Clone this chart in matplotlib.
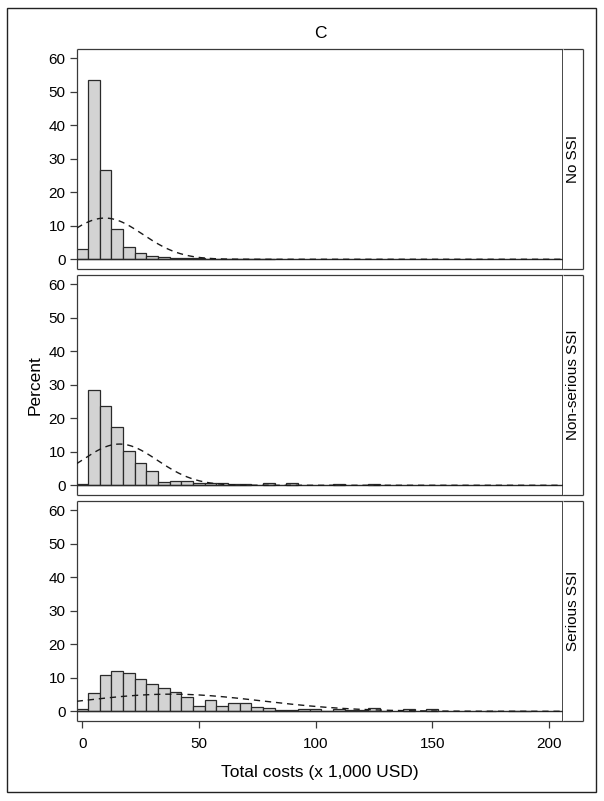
import numpy as np
import matplotlib
matplotlib.use("Agg")
import matplotlib.pyplot as plt
from matplotlib.patches import Rectangle

plt.rcParams['font.family'] = ['Liberation Sans', 'DejaVu Sans']

# ---- data ----
bin_width = 5
panel_labels = ["No SSI", "Non-serious SSI", "Serious SSI"]

centers_no = [0, 5, 10, 15, 20, 25, 30, 35, 40, 45, 50, 55, 60, 65, 70, 75, 80]
pct_no = [3.1, 53.4, 26.7, 9.0, 3.6, 1.9, 1.1, 0.7, 0.4, 0.3, 0.3, 0.2, 0.1, 0.1, 0.1, 0.05, 0.05]

centers_non = [0, 5, 10, 15, 20, 25, 30, 35, 40, 45, 50, 55, 60, 65, 70, 80, 90, 110, 125]
pct_non = [0.4, 28.5, 23.7, 17.5, 10.2, 6.6, 4.4, 1.1, 1.4, 1.4, 0.8, 0.7, 0.7, 0.3, 0.3, 0.7, 0.7, 0.3, 0.3]

centers_ser = [0, 5, 10, 15, 20, 25, 30, 35, 40, 45, 50, 55, 60, 65, 70, 75, 80, 85, 90, 95,
               100, 105, 110, 115, 120, 125, 130, 140, 150, 175, 185, 190]
pct_ser = [0.7, 5.6, 10.7, 12.0, 11.5, 9.6, 8.2, 7.0, 5.8, 4.3, 1.6, 3.5, 1.5, 2.5, 2.5, 1.4, 1.0, 0.5, 0.5, 0.8,
           0.8, 0.2, 0.6, 0.5, 0.5, 1.0, 0.2, 0.8, 0.8, 0.2, 0.2, 0.2]

# fitted normal curve parameters (mean, sd) per panel
normal_mean = [9.7, 16.0, 38.0]
normal_sd = [16.2, 16.2, 39.0]

x_ticks = [0, 50, 100, 150, 200]
y_ticks = [0, 10, 20, 30, 40, 50, 60]

panels = [(centers_no, pct_no), (centers_non, pct_non), (centers_ser, pct_ser)]

# ---- layout ----
W, H = 604, 801
fig = plt.figure(figsize=(W / 100, H / 100), dpi=100)

left_px, right_px, strip_px = 76.7, 563.3, 583.3
tops = [49, 275, 501]
ph = 220
edge_col = '#3a3a3a'

xs = np.linspace(-2.4, 206.2, 600)
axes = []
for i, (cen, pct) in enumerate(panels):
    top = tops[i]
    ax = fig.add_axes([left_px / W, 1 - (top + ph) / H, (right_px - left_px) / W, ph / H])
    axes.append(ax)
    ax.bar(cen, pct, width=bin_width, color='#d3d3d3', edgecolor='#2a2a2a', linewidth=0.9, zorder=2)
    ax.axhline(0, color='#2a2a2a', linewidth=1.0, zorder=3)
    mu, sd = normal_mean[i], normal_sd[i]
    curve = 100 * bin_width * np.exp(-0.5 * ((xs - mu) / sd) ** 2) / (sd * np.sqrt(2 * np.pi))
    ax.plot(xs, curve, color='#1a1a1a', linewidth=1.0, linestyle=(0, (4.5, 3.5)), zorder=4)
    ax.set_xlim(-2.4, 206.2)
    ax.set_ylim(-2.9, 62.8)
    ax.set_yticks(y_ticks)
    ax.set_xticks(x_ticks)
    ax.tick_params(axis='y', direction='out', length=5, width=0.9, color=edge_col, labelsize=11, pad=3)
    ax.tick_params(axis='x', direction='out', length=5, width=0.9, color=edge_col, labelsize=11, pad=6.5)
    if i < 2:
        ax.tick_params(axis='x', bottom=False, labelbottom=False)
    for s in ax.spines.values():
        s.set_color(edge_col)
        s.set_linewidth(0.9)
        s.set_capstyle('butt')
    ax.spines['right'].set_color('#111111')
    ax.spines['right'].set_linewidth(1.8)

    sax = fig.add_axes([right_px / W, 1 - (top + ph) / H, (strip_px - right_px) / W, ph / H])
    sax.set_xticks([])
    sax.set_yticks([])
    for s in sax.spines.values():
        s.set_color(edge_col)
        s.set_linewidth(0.9)
        s.set_capstyle('butt')
    sax.spines['left'].set_visible(False)
    sax.text(0.5, 0.5, panel_labels[i], rotation=90, ha='center', va='center',
             fontsize=11, transform=sax.transAxes)

fig.text(320 / W, 1 - 34 / H, "C", ha='center', va='center', fontsize=12.5)
fig.text(320 / W, 1 - 773 / H, "Total costs (x 1,000 USD)", ha='center', va='center', fontsize=12.5)
fig.text(35 / W, 1 - 385 / H, "Percent", ha='center', va='center', rotation=90, fontsize=12.5)

fig.patches.append(Rectangle((7.5 / W, 1 - 792 / H), (595.7 - 7.5) / W, (792 - 7.5) / H,
                             transform=fig.transFigure, fill=False, edgecolor='#222222', linewidth=1.0))

fig.savefig("out.png", dpi=100)
